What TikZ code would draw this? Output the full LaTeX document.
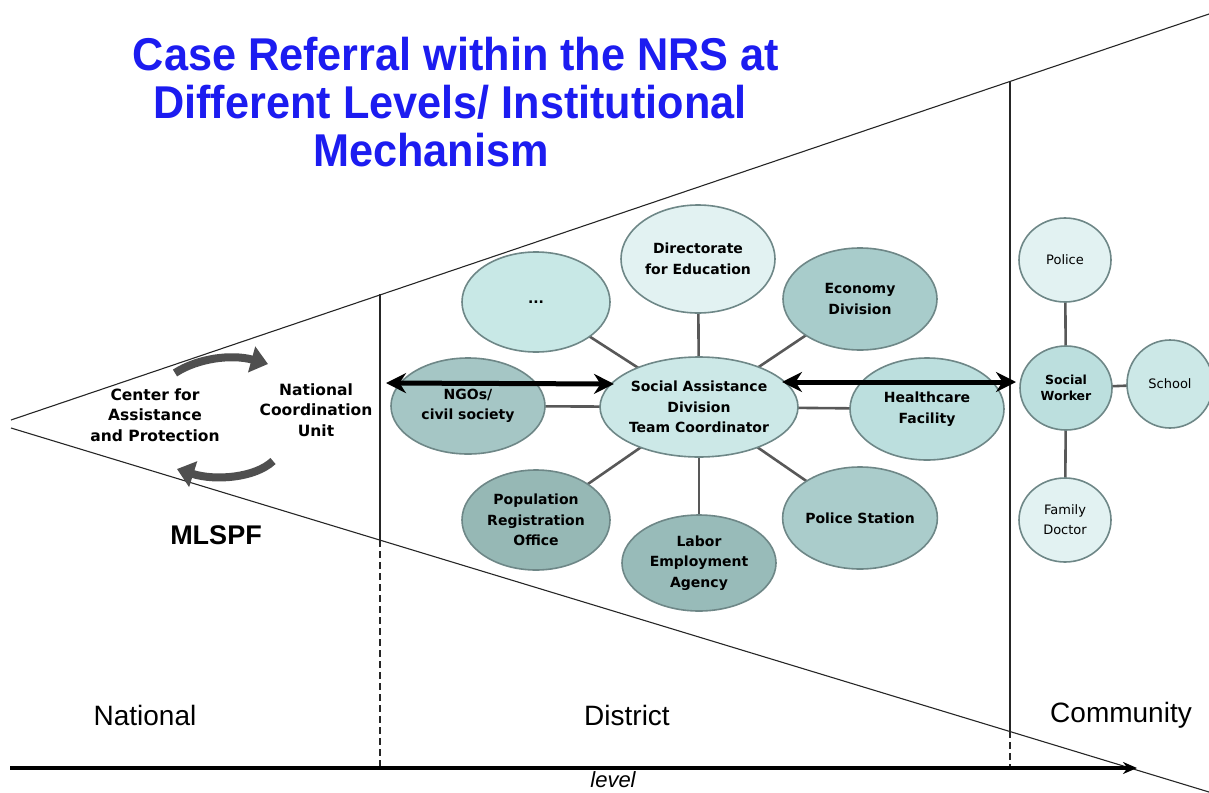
\documentclass[tikz,border=0pt]{standalone}
\usepackage{fontspec}
\setmainfont{Liberation Sans}
\newfontfamily\dv{DejaVu Sans}
\usetikzlibrary{shapes.geometric,arrows.meta,backgrounds}
\definecolor{ttl}{RGB}{28,28,240}
\definecolor{spk}{RGB}{88,88,88}
\definecolor{bord}{RGB}{110,135,135}
\definecolor{cA}{RGB}{200,232,230}
\definecolor{cB}{RGB}{226,242,242}
\definecolor{cC}{RGB}{168,204,203}
\definecolor{cD}{RGB}{165,198,197}
\definecolor{cE}{RGB}{204,232,231}
\definecolor{cF}{RGB}{188,223,222}
\definecolor{cG}{RGB}{150,184,181}
\definecolor{cH}{RGB}{152,187,185}
\definecolor{cI}{RGB}{170,204,203}
\newcommand{\ttlline}[1]{\scalebox{0.94}[1]{#1}}
\tikzset{
  ell/.style={ellipse, draw=bord, line width=1.6pt, inner sep=0pt, align=center,
    font=\dv\bfseries\fontsize{14}{20.5}\selectfont},
  circ/.style={ellipse, draw=bord, line width=1.6pt, inner sep=0pt, align=center,
    minimum width=92pt, minimum height=84pt, font=\dv\fontsize{13}{20}\selectfont},
  spoke/.style={draw=spk, line width=2.6pt},
  geo/.style={draw=black!85, line width=1.1pt},
  dbl/.style={draw=black, line width=5pt, {Stealth[length=20pt,width=20pt]}-{Stealth[length=20pt,width=20pt]}},
  curvarrow/.style={draw=spk!90!black, line width=8pt, -{Triangle[length=17pt,width=26pt]}},
  ttlfont/.style={font=\bfseries\fontsize{46}{50}\selectfont, text=ttl},
  lvl/.style={font=\fontsize{28}{30}\selectfont},
  nat/.style={align=center, font=\dv\bfseries\fontsize{15.5}{20.5}\selectfont}
}
\begin{document}
\begin{tikzpicture}[x=1pt,y=-1pt]
\useasboundingbox (0,0) rectangle (1209,792);
% triangle and level separators
\coordinate (ua) at (11,420);
\coordinate (ub) at (1209,14);
\coordinate (la) at (11,428);
\coordinate (lb) at (1209,792);
\draw[geo] (ua) -- (ub);
\draw[geo] (la) -- (lb);
\coordinate (v1t) at (380,294);
\coordinate (v1m) at (380,540);
\coordinate (v1b) at (380,768);
\draw[geo] (v1t) -- (v1m);
\draw[geo, dashed, dash pattern=on 7pt off 4pt] (v1m) -- (v1b);
\coordinate (v2t) at (1010,81);
\coordinate (v2m) at (1010,731);
\coordinate (v2b) at (1010,768);
\draw[geo] (v2t) -- (v2m);
\draw[geo, dashed, dash pattern=on 7pt off 4pt] (v2m) -- (v2b);
% axis
\coordinate (axa) at (10,768);
\coordinate (axb) at (1137,768);
\draw[line width=3.2pt, -{Stealth[length=14pt,width=12pt]}] (axa) -- (axb);
\node[font=\itshape\fontsize{22}{24}\selectfont, inner sep=1pt] (lev) at (613,780) {level};
% level labels
\node[lvl] (lnat) at (145,715) {National};
\node[lvl] (ldis) at (627,715) {District};
\node[lvl] (lcom) at (1121,715) {Community};
% title
\node[ttlfont] (t1) at (456,54) {\ttlline{Case Referral within the NRS at}};
\node[ttlfont] (t2) at (450,102) {\ttlline{Different Levels/ Institutional}};
\node[ttlfont] (t3) at (431,150) {\ttlline{Mechanism}};
% national level
\node[nat] (cap) at (155,415) {Center for\\Assistance\\and Protection};
\node[nat] (ncu) at (316,410) {National\\Coordination\\Unit};
\node[font=\bfseries\fontsize{27}{30}\selectfont] (mlspf) at (216,535) {MLSPF};
\coordinate (b1s) at (175,373);
\coordinate (b1e) at (268,364);
\draw[curvarrow] (b1s) .. controls (198,358) and (232,354) .. (b1e);
\coordinate (b2s) at (273,461);
\coordinate (b2e) at (177,469);
\draw[curvarrow] (b2s) .. controls (255,478) and (215,481) .. (b2e);
% district ellipses
\node[ell, fill=cA, minimum width=148pt, minimum height=100pt] (dots) at (536,302) {...};
\node[ell, fill=cB, minimum width=154pt, minimum height=108pt] (edu) at (698,259) {Directorate\\for Education};
\node[ell, fill=cC, minimum width=154pt, minimum height=102pt] (econ) at (860,299) {Economy\\Division};
\node[ell, fill=cD, minimum width=154pt, minimum height=96pt] (ngo) at (468,406) {NGOs/\\civil society};
\node[ell, fill=cE, minimum width=158pt, minimum height=100pt] (sad) at (699,407) {Social Assistance\\Division\\Team Coordinator};
\node[ell, fill=cF, minimum width=154pt, minimum height=102pt] (health) at (927,409) {Healthcare\\Facility};
\node[ell, fill=cG, minimum width=148pt, minimum height=100pt] (pop) at (536,520) {Population\\Registration\\Office};
\node[ell, fill=cH, minimum width=154pt, minimum height=96pt] (labor) at (699,563) {Labor\\Employment\\Agency};
\node[ell, fill=cI, minimum width=154pt, minimum height=102pt] (polst) at (860,518) {Police Station};
% community
\node[circ, fill=cB] (pol) at (1065,260) {Police};
\node[circ, fill=cF, font=\dv\bfseries\fontsize{12.5}{16}\selectfont] (sw) at (1066,388) {Social\\Worker};
\node[circ, fill=cE, minimum width=86pt, minimum height=88pt] (school) at (1170,384) {School};
\node[circ, fill=cB] (fam) at (1065,520) {Family\\Doctor};
% connectors
\begin{scope}[on background layer]
\foreach \n in {dots,edu,econ,ngo,health,pop,labor,polst}
  \draw[spoke] (sad.center) -- (\n.center);
\draw[spoke] (sw.center) -- (pol.center);
\draw[spoke] (sw.center) -- (school.center);
\draw[spoke] (sw.center) -- (fam.center);
\end{scope}
% double arrows
\coordinate (d1a) at (386,383);
\coordinate (d1b) at (614,384);
\draw[dbl] (d1a) -- (d1b);
\coordinate (d2a) at (782,382);
\coordinate (d2b) at (1016,382);
\draw[dbl] (d2a) -- (d2b);
\end{tikzpicture}
\end{document}
